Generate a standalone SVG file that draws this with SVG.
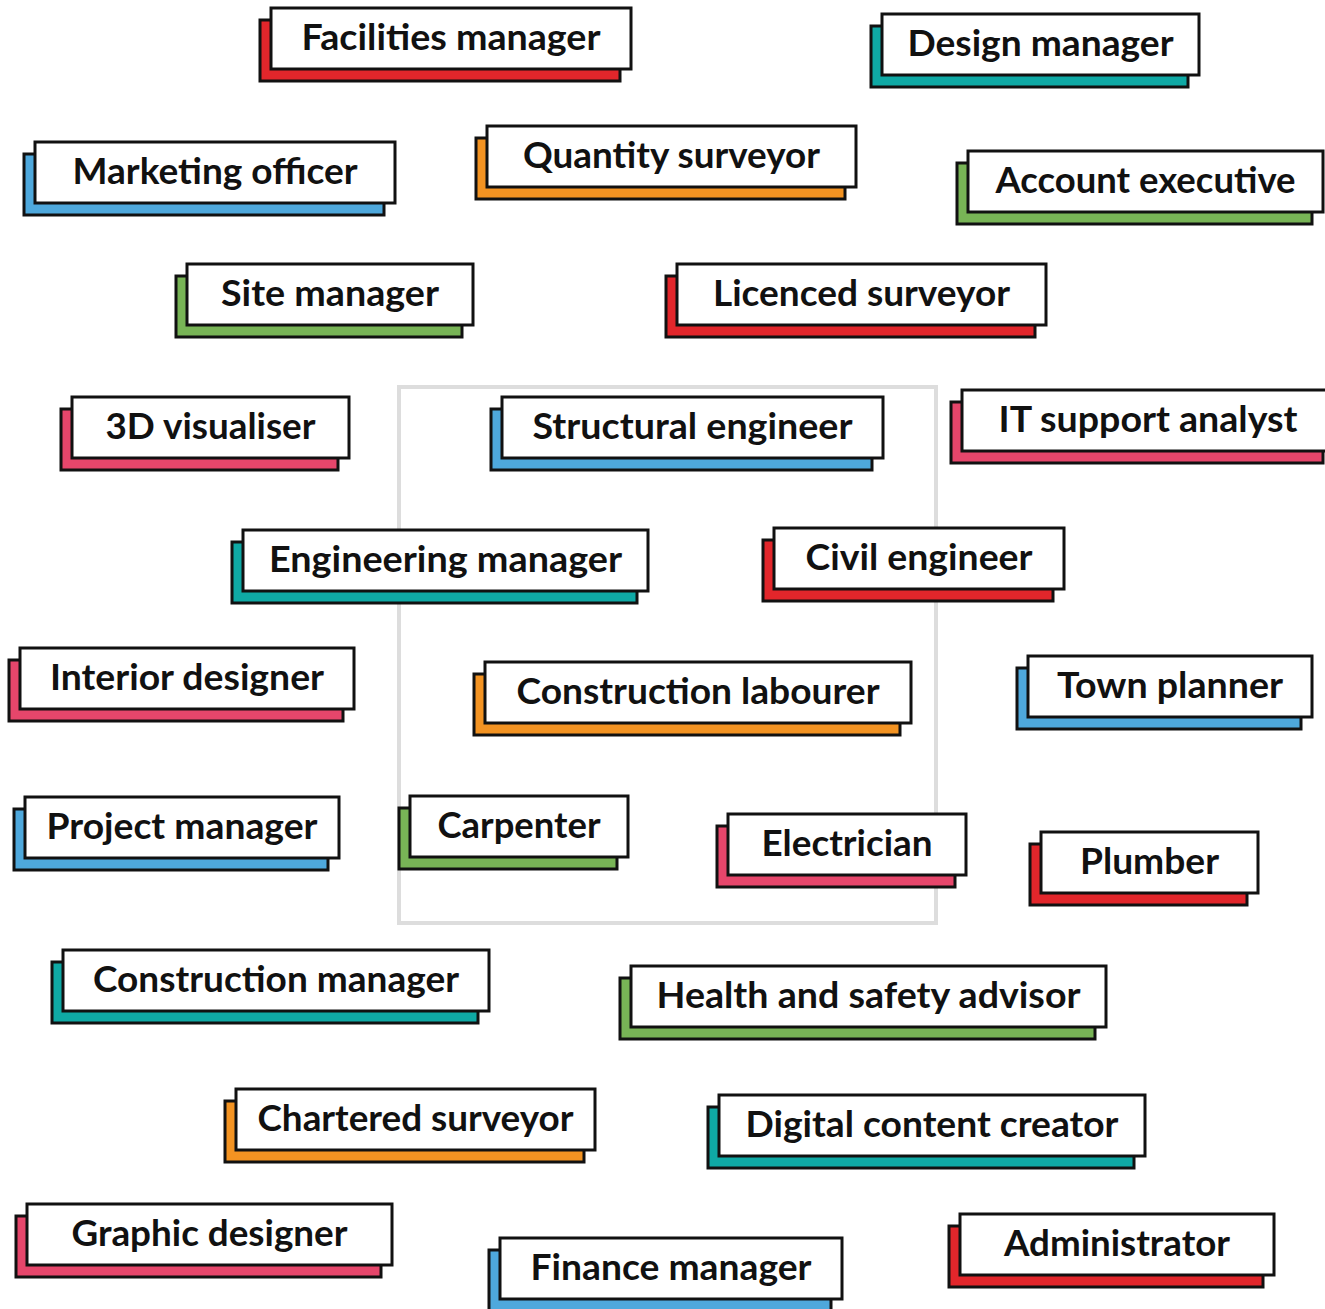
<svg xmlns="http://www.w3.org/2000/svg" width="1325" height="1309" viewBox="0 0 1325 1309">
<style>
.w{fill:#fff;stroke:#111;stroke-width:3}
.s{stroke:#111;stroke-width:3}
.red{fill:#e2262b}.teal{fill:#0fa9a5}.blue{fill:#4ea8dc}.orange{fill:#f39322}.green{fill:#78b456}.pink{fill:#e6466b}
text{font-family:Lato,"Noto Sans","Liberation Sans",sans-serif;font-weight:700;font-size:37px;fill:#111;text-anchor:middle}
.frame{fill:none;stroke:#ddd;stroke-width:4}
</style>
<rect class="frame" x="399" y="387" width="537" height="536"/>
<g id="connectors"/>
<g id="n1" transform="translate(271,8)"><rect class="s red" x="-11" y="12" width="360" height="61"/><rect class="w" width="360" height="61"/><text x="180" y="42" textLength="299" lengthAdjust="spacingAndGlyphs">Facilities manager</text></g>
<g id="n2" transform="translate(882,14)"><rect class="s teal" x="-11" y="12" width="317" height="61"/><rect class="w" width="317" height="61"/><text x="158.5" y="42" textLength="266" lengthAdjust="spacingAndGlyphs">Design manager</text></g>
<g id="n3" transform="translate(35,142)"><rect class="s blue" x="-11" y="12" width="360" height="61"/><rect class="w" width="360" height="61"/><text x="180" y="42" textLength="285" lengthAdjust="spacingAndGlyphs">Marketing officer</text></g>
<g id="n4" transform="translate(487,126)"><rect class="s orange" x="-11" y="12" width="369" height="61"/><rect class="w" width="369" height="61"/><text x="184.5" y="42" textLength="297" lengthAdjust="spacingAndGlyphs">Quantity surveyor</text></g>
<g id="n5" transform="translate(968,151)"><rect class="s green" x="-11" y="12" width="355" height="61"/><rect class="w" width="355" height="61"/><text x="177.5" y="42" textLength="300" lengthAdjust="spacingAndGlyphs">Account executive</text></g>
<g id="n6" transform="translate(187,264)"><rect class="s green" x="-11" y="12" width="286" height="61"/><rect class="w" width="286" height="61"/><text x="143" y="42" textLength="218" lengthAdjust="spacingAndGlyphs">Site manager</text></g>
<g id="n7" transform="translate(677,264)"><rect class="s red" x="-11" y="12" width="369" height="61"/><rect class="w" width="369" height="61"/><text x="184.5" y="42" textLength="297" lengthAdjust="spacingAndGlyphs">Licenced surveyor</text></g>
<g id="n8" transform="translate(72,397)"><rect class="s pink" x="-11" y="12" width="277" height="61"/><rect class="w" width="277" height="61"/><text x="138.5" y="42" textLength="210" lengthAdjust="spacingAndGlyphs">3D visualiser</text></g>
<g id="n9" transform="translate(502,397)"><rect class="s blue" x="-11" y="12" width="381" height="61"/><rect class="w" width="381" height="61"/><text x="190.5" y="42" textLength="320" lengthAdjust="spacingAndGlyphs">Structural engineer</text></g>
<g id="n10" transform="translate(962,390)"><rect class="s pink" x="-11" y="12" width="372" height="61"/><rect class="w" width="372" height="61"/><text x="186" y="42" textLength="299" lengthAdjust="spacingAndGlyphs">IT support analyst</text></g>
<g id="n11" transform="translate(243,530)"><rect class="s teal" x="-11" y="12" width="405" height="61"/><rect class="w" width="405" height="61"/><text x="202.5" y="42" textLength="353" lengthAdjust="spacingAndGlyphs">Engineering manager</text></g>
<g id="n12" transform="translate(774,528)"><rect class="s red" x="-11" y="12" width="290" height="61"/><rect class="w" width="290" height="61"/><text x="145" y="42" textLength="227" lengthAdjust="spacingAndGlyphs">Civil engineer</text></g>
<g id="n13" transform="translate(20,648)"><rect class="s pink" x="-11" y="12" width="334" height="61"/><rect class="w" width="334" height="61"/><text x="167" y="42" textLength="274" lengthAdjust="spacingAndGlyphs">Interior designer</text></g>
<g id="n14" transform="translate(485,662)"><rect class="s orange" x="-11" y="12" width="426" height="61"/><rect class="w" width="426" height="61"/><text x="213" y="42" textLength="363" lengthAdjust="spacingAndGlyphs">Construction labourer</text></g>
<g id="n15" transform="translate(1028,656)"><rect class="s blue" x="-11" y="12" width="284" height="61"/><rect class="w" width="284" height="61"/><text x="142" y="42" textLength="226" lengthAdjust="spacingAndGlyphs">Town planner</text></g>
<g id="n16" transform="translate(25,797)"><rect class="s blue" x="-11" y="12" width="314" height="61"/><rect class="w" width="314" height="61"/><text x="157" y="42" textLength="271" lengthAdjust="spacingAndGlyphs">Project manager</text></g>
<g id="n17" transform="translate(410,796)"><rect class="s green" x="-11" y="12" width="218" height="61"/><rect class="w" width="218" height="61"/><text x="109" y="42" textLength="163" lengthAdjust="spacingAndGlyphs">Carpenter</text></g>
<g id="n18" transform="translate(728,814)"><rect class="s pink" x="-11" y="12" width="238" height="61"/><rect class="w" width="238" height="61"/><text x="119" y="42" textLength="171" lengthAdjust="spacingAndGlyphs">Electrician</text></g>
<g id="n19" transform="translate(1041,832)"><rect class="s red" x="-11" y="12" width="217" height="61"/><rect class="w" width="217" height="61"/><text x="108.5" y="42" textLength="139" lengthAdjust="spacingAndGlyphs">Plumber</text></g>
<g id="n20" transform="translate(63,950)"><rect class="s teal" x="-11" y="12" width="426" height="61"/><rect class="w" width="426" height="61"/><text x="213" y="42" textLength="366" lengthAdjust="spacingAndGlyphs">Construction manager</text></g>
<g id="n21" transform="translate(631,966)"><rect class="s green" x="-11" y="12" width="475" height="61"/><rect class="w" width="475" height="61"/><text x="237.5" y="42" textLength="424" lengthAdjust="spacingAndGlyphs">Health and safety advisor</text></g>
<g id="n22" transform="translate(236,1089)"><rect class="s orange" x="-11" y="12" width="359" height="61"/><rect class="w" width="359" height="61"/><text x="179.5" y="42" textLength="316" lengthAdjust="spacingAndGlyphs">Chartered surveyor</text></g>
<g id="n23" transform="translate(719,1095)"><rect class="s teal" x="-11" y="12" width="426" height="61"/><rect class="w" width="426" height="61"/><text x="213" y="42" textLength="373" lengthAdjust="spacingAndGlyphs">Digital content creator</text></g>
<g id="n24" transform="translate(27,1204)"><rect class="s pink" x="-11" y="12" width="365" height="61"/><rect class="w" width="365" height="61"/><text x="182.5" y="42" textLength="276" lengthAdjust="spacingAndGlyphs">Graphic designer</text></g>
<g id="n25" transform="translate(500,1238)"><rect class="s blue" x="-11" y="12" width="342" height="61"/><rect class="w" width="342" height="61"/><text x="171" y="42" textLength="281" lengthAdjust="spacingAndGlyphs">Finance manager</text></g>
<g id="n26" transform="translate(960,1214)"><rect class="s red" x="-11" y="12" width="314" height="61"/><rect class="w" width="314" height="61"/><text x="157" y="42" textLength="226" lengthAdjust="spacingAndGlyphs">Administrator</text></g>
</svg>
